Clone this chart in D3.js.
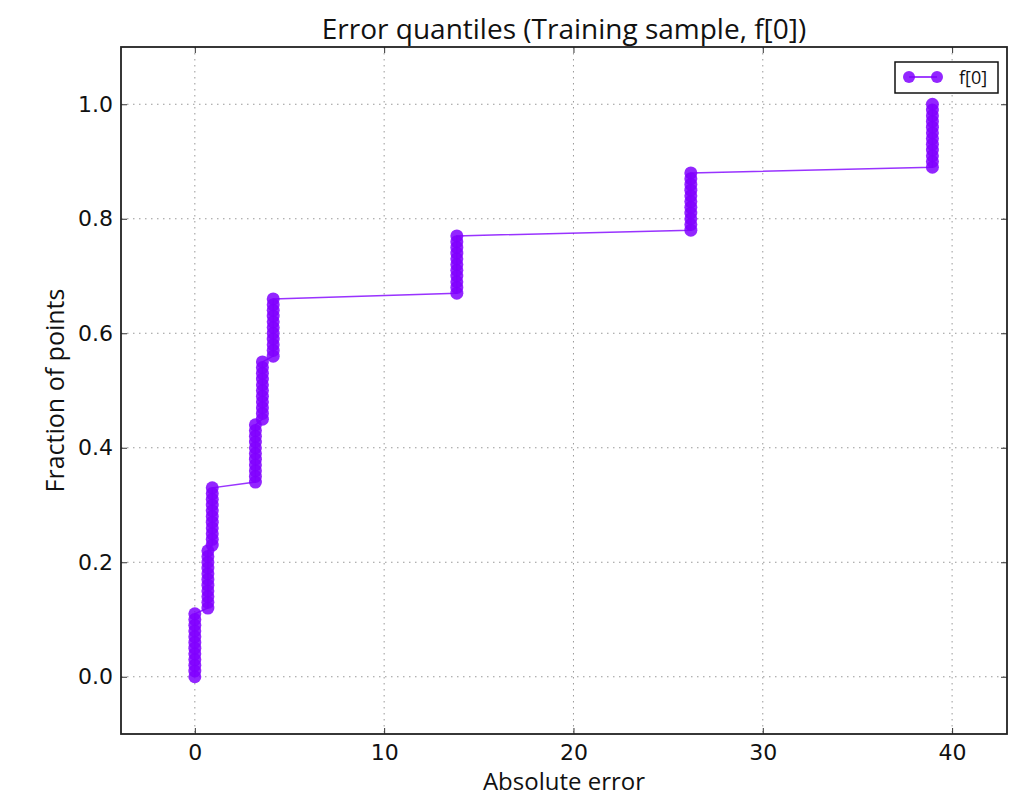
<!DOCTYPE html>
<html><head><meta charset="utf-8">
<script src="https://cdn.jsdelivr.net/npm/d3@7/dist/d3.min.js"></script>
<style>body{margin:0;background:#fff;} svg{display:block;}</style>
</head><body>
<svg id="chart" width="1014" height="797"></svg>
<script>
const title = "Error quantiles (Training sample, f[0])";
const xLabel = "Absolute error";
const yLabel = "Fraction of points";
const seriesName = "f[0]";
const xTicks = [0, 10, 20, 30, 40];
const yTicks = [0.0, 0.2, 0.4, 0.6, 0.8, 1.0];
const xDomain = [-3.9, 42.9];
const yDomain = [-0.1, 1.1];
// absolute error (sorted) per quantile point
const errors = [
 0.0,0.0,0.0,0.0,0.0,0.0,0.0,0.0,0.0,0.0,0.0,0.0,
 0.69,0.69,0.69,0.69,0.69,0.69,0.69,0.69,0.69,0.69,0.69,
 0.92,0.92,0.92,0.92,0.92,0.92,0.92,0.92,0.92,0.92,0.92,
 3.2,3.2,3.2,3.2,3.2,3.2,3.2,3.2,3.2,3.2,3.2,
 3.57,3.57,3.57,3.57,3.57,3.57,3.57,3.57,3.57,3.57,3.57,
 4.14,4.14,4.14,4.14,4.14,4.14,4.14,4.14,4.14,4.14,4.14,
 13.84,13.84,13.84,13.84,13.84,13.84,13.84,13.84,13.84,13.84,13.84,
 26.2,26.2,26.2,26.2,26.2,26.2,26.2,26.2,26.2,26.2,26.2,
 38.96,38.96,38.96,38.96,38.96,38.96,38.96,38.96,38.96,38.96,38.96,38.96
];
const fractions = [
 0.00,0.01,0.02,0.03,0.04,0.05,0.06,0.07,0.08,0.09,0.10,0.11,
 0.12,0.13,0.14,0.15,0.16,0.17,0.18,0.19,0.20,0.21,0.22,
 0.23,0.24,0.25,0.26,0.27,0.28,0.29,0.30,0.31,0.32,0.33,
 0.34,0.35,0.36,0.37,0.38,0.39,0.40,0.41,0.42,0.43,0.44,
 0.45,0.46,0.47,0.48,0.49,0.50,0.51,0.52,0.53,0.54,0.55,
 0.56,0.57,0.58,0.59,0.60,0.61,0.62,0.63,0.64,0.65,0.66,
 0.67,0.68,0.69,0.70,0.71,0.72,0.73,0.74,0.75,0.76,0.77,
 0.78,0.79,0.80,0.81,0.82,0.83,0.84,0.85,0.86,0.87,0.88,
 0.89,0.90,0.91,0.92,0.93,0.94,0.95,0.96,0.97,0.98,0.99,1.00
];

const color = "#8000ff";
const m = {left:121, right:1007, top:47, bottom:734};
const svg = d3.select("#chart");
const x = d3.scaleLinear().domain(xDomain).range([m.left, m.right]);
const y = d3.scaleLinear().domain(yDomain).range([m.bottom, m.top]);
const tickFont = "DejaVu Sans, sans-serif";
const labelFont = "Open Sans, sans-serif";

// grid
const grid = svg.append("g");
grid.selectAll("line.gx").data(xTicks).join("line")
  .attr("x1", d=>x(d)).attr("x2", d=>x(d)).attr("y1", m.top).attr("y2", m.bottom)
  .attr("stroke", "#999").attr("stroke-width", 1).attr("stroke-dasharray", "1.5,4.5");
grid.selectAll("line.gy").data(yTicks).join("line")
  .attr("y1", d=>y(d)).attr("y2", d=>y(d)).attr("x1", m.left).attr("x2", m.right)
  .attr("stroke", "#999").attr("stroke-width", 1).attr("stroke-dasharray", "1.5,4.5");

// axes (ticks inward)
const ax = (g) => g.selectAll(".domain").remove();
svg.append("g").attr("transform", `translate(0,${m.bottom})`)
  .call(d3.axisBottom(x).tickValues(xTicks).tickFormat(d3.format("d")).tickSizeInner(-6).tickSizeOuter(0).tickPadding(10))
  .call(ax).call(g=>g.selectAll("text").attr("font-family", tickFont).attr("font-size", 22).attr("fill","#111"))
  .call(g=>g.selectAll("line").attr("stroke","#333"));
svg.append("g").attr("transform", `translate(0,${m.top})`)
  .call(d3.axisTop(x).tickValues(xTicks).tickFormat("").tickSizeInner(-6).tickSizeOuter(0))
  .call(ax).call(g=>g.selectAll("line").attr("stroke","#333"));
svg.append("g").attr("transform", `translate(${m.left},0)`)
  .call(d3.axisLeft(y).tickValues(yTicks).tickFormat(d3.format(".1f")).tickSizeInner(-6).tickSizeOuter(0).tickPadding(8))
  .call(ax).call(g=>g.selectAll("text").attr("font-family", tickFont).attr("font-size", 22).attr("fill","#111"))
  .call(g=>g.selectAll("line").attr("stroke","#333"));
svg.append("g").attr("transform", `translate(${m.right},0)`)
  .call(d3.axisRight(y).tickValues(yTicks).tickFormat("").tickSizeInner(-6).tickSizeOuter(0))
  .call(ax).call(g=>g.selectAll("line").attr("stroke","#333"));

// data
const pts = errors.map((e,i)=>({x:e, y:fractions[i]}));
svg.append("path").datum(pts)
  .attr("d", d3.line().x(d=>x(d.x)).y(d=>y(d.y)))
  .attr("fill","none").attr("stroke", color).attr("stroke-width", 1.5).attr("stroke-opacity", 0.8);
svg.append("g").selectAll("circle").data(pts).join("circle")
  .attr("cx", d=>x(d.x)).attr("cy", d=>y(d.y)).attr("r", 6.5)
  .attr("fill", color).attr("fill-opacity", 0.85);

// frame
svg.append("rect").attr("x", m.left).attr("y", m.top)
  .attr("width", m.right-m.left).attr("height", m.bottom-m.top)
  .attr("fill","none").attr("stroke","#222").attr("stroke-width",1.8);

// legend
const lg = svg.append("g");
lg.append("rect").attr("x", 895).attr("y", 62).attr("width", 103).attr("height", 31)
  .attr("fill","#fff").attr("stroke","#111").attr("stroke-width",1.5);
lg.append("line").attr("x1", 909).attr("x2", 937).attr("y1", 77).attr("y2", 77)
  .attr("stroke", color).attr("stroke-width",1.5);
lg.selectAll("circle").data([909, 937]).join("circle")
  .attr("cx", d=>d).attr("cy", 77).attr("r", 6).attr("fill", color).attr("fill-opacity",0.85);
lg.append("text").attr("x", 959).attr("y", 84).text(seriesName)
  .attr("font-family", labelFont).attr("font-size", 18).attr("fill","#111");

// titles
svg.append("text").attr("x", (m.left+m.right)/2).attr("y", 39).attr("text-anchor","middle")
  .attr("font-family", labelFont).attr("font-size", 28).attr("fill","#111").text(title);
svg.append("text").attr("x", (m.left+m.right)/2).attr("y", 790).attr("text-anchor","middle")
  .attr("font-family", labelFont).attr("font-size", 24).attr("fill","#111").text(xLabel);
svg.append("text").attr("transform", `translate(64,${(m.top+m.bottom)/2}) rotate(-90)`)
  .attr("text-anchor","middle")
  .attr("font-family", labelFont).attr("font-size", 25).attr("fill","#111").text(yLabel);
</script>
</body></html>
